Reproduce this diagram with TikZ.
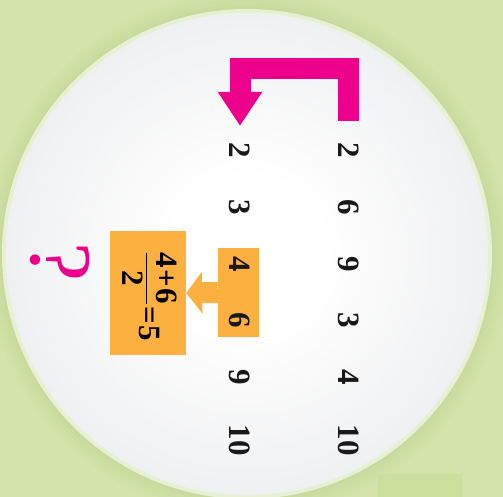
\documentclass[tikz,border=0pt]{standalone}
\usepackage{fontspec}
\setmainfont{Liberation Serif}
\usetikzlibrary{arrows.meta}
\definecolor{bggreen}{HTML}{D3E3A9}
\definecolor{shadowgreen}{HTML}{B8CC8C}
\definecolor{ringgreen}{HTML}{E6F0D2}
\definecolor{edgegray}{HTML}{DADCE0}
\definecolor{magentapink}{HTML}{EC008C}
\definecolor{boxorange}{HTML}{FBB040}
\definecolor{patchgreen}{HTML}{CCE09E}
\pgfdeclareradialshading{plate}{\pgfpoint{0bp}{0bp}}{%
  color(0bp)=(white); color(8bp)=(white); color(30bp)=(edgegray!55); color(48bp)=(edgegray); color(50bp)=(edgegray); color(100bp)=(edgegray)}
\tikzset{
  num/.style={font=\bfseries\fontsize{31}{31}\selectfont, rotate=-90, inner sep=0pt, text=black!90},
  obox/.style={fill=boxorange, draw=none, inner sep=0pt},
  pinkarrow/.style={draw=magentapink, line width=21pt, line join=miter,
    -{Triangle[width=42pt,length=34pt]}},
  orangearrow/.style={draw=boxorange, line width=21pt,
    -{Triangle[width=41pt,length=16pt]}}
}
\begin{document}
\begin{tikzpicture}[x=1pt,y=-1pt]
\useasboundingbox (0,0) rectangle (503,497);
\clip (0,0) rectangle (503,497);
\fill[bggreen] (0,0) rectangle (503,497);
\fill[patchgreen] (378,474) rectangle (462,497);
% soft shadow round the plate
\foreach \r/\o in {262/0.04,258/0.06,254/0.08,250/0.10,247/0.12}{
  \fill[shadowgreen, opacity=\o] (247,254) circle[radius=\r];
}
\fill[ringgreen] (247,254) circle[radius=245];
\shade[shading=plate] (247,254) circle[radius=241];
% number columns
\node[num] (r1) at (348.5,150) {2};
\node[num] (r2) at (348.5,207) {6};
\node[num] (r3) at (348.5,264) {9};
\node[num] (r4) at (348.5,320) {3};
\node[num] (r5) at (348.5,377) {4};
\node[num] (r6) at (348.5,440) {10};
% orange boxes
\node[obox, minimum width=41pt, minimum height=89pt] (sb) at (238.5,292.5) {};
\node[obox, minimum width=76pt, minimum height=124pt] (bb) at (148,293) {};
\node[num] (l1) at (240,150) {2};
\node[num] (l2) at (240,207) {3};
\node[num] (l3) at (240,264) {4};
\node[num] (l4) at (240,320) {6};
\node[num] (l5) at (240,377) {9};
\node[num] (l6) at (240,440) {10};
% arrows
\draw[pinkarrow] ([yshift=29pt]r1.center) |- ([yshift=81.5pt]l1.center) -- ([yshift=24pt]l1.center);
\draw[orangearrow] (sb.west) -- (bb.east);
% fraction
\node[num, text=black] (fr) at (150,296)
  {$\displaystyle\frac{\textbf{4\kern1.5pt+\kern1.5pt6}}{\textbf{2}}\textbf{\kern1pt=\kern1pt5}$};
% question mark
\node[rotate=-90, text=magentapink, font=\fontsize{88}{88}\selectfont, inner sep=0pt] (q) at (60,262) {?};
\end{tikzpicture}
\end{document}
